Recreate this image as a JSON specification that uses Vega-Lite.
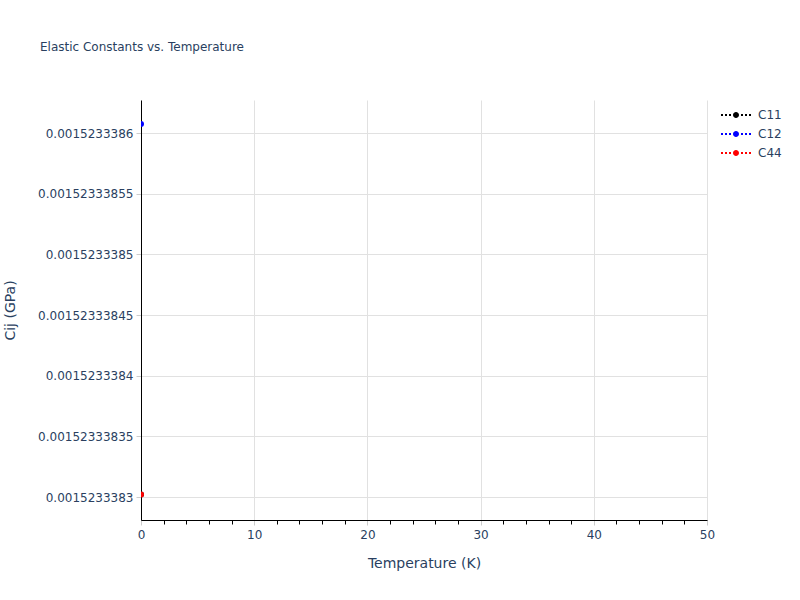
{
  "$schema": "https://vega.github.io/schema/vega-lite/v6.json",
  "width": 566,
  "height": 420,
  "autosize": {"type": "none"},
  "padding": {"left": 141, "top": 100, "right": 93, "bottom": 80},
  "background": "white",
  "title": {
    "text": "Elastic Constants vs. Temperature",
    "anchor": "start",
    "frame": "group",
    "dx": -101,
    "offset": 46,
    "fontSize": 12,
    "fontWeight": "normal",
    "font": "DejaVu Sans",
    "color": "#2a3f5f"
  },
  "data": {
    "values": [
      {"series": "C11", "temperature": 0, "cij": 0.0015233383021},
      {"series": "C12", "temperature": 0, "cij": 0.0015233386074},
      {"series": "C44", "temperature": 0, "cij": 0.0015233383021}
    ]
  },
  "layer": [
    {
      "mark": {"type": "point", "filled": true, "opacity": 1, "size": 36, "clip": true},
      "encoding": {
        "x": {
          "field": "temperature",
          "type": "quantitative",
          "scale": {"domain": [0, 50], "nice": false, "zero": false},
          "axis": {
            "title": "Temperature (K)",
            "orient": "bottom",
            "values": [0, 10, 20, 30, 40, 50],
            "format": "d",
            "labelFlush": false,
            "grid": true,
            "gridColor": "#e1e1e1",
            "domainColor": "black",
            "tickColor": "#cccccc",
            "tickSize": 5,
            "labelPadding": 4,
            "titlePadding": 16
          }
        },
        "y": {
          "field": "cij",
          "type": "quantitative",
          "scale": {"domain": [0.0015233382811, 0.0015233386272], "nice": false, "zero": false},
          "axis": {
            "title": "Cij (GPa)",
            "values": [0.0015233383, 0.00152333835, 0.0015233384, 0.00152333845, 0.0015233385, 0.00152333855, 0.0015233386],
            "format": ".11~f",
            "labelFlush": false,
            "grid": true,
            "gridColor": "#e1e1e1",
            "domainColor": "black",
            "tickColor": "#cccccc",
            "tickSize": 5,
            "labelPadding": 3,
            "titlePadding": 20
          }
        },
        "color": {
          "field": "series",
          "type": "nominal",
          "scale": {"domain": ["C11", "C12", "C44"], "range": ["black", "blue", "red"]},
          "legend": {
            "title": null,
            "orient": "none",
            "legendX": 589,
            "legendY": 9,
            "padding": 0,
            "symbolType": "M-3,-0.2H-2.6V0.2H-3Z M-2.2,-0.2H-1.8V0.2H-2.2Z M-1.4,-0.2H-1V0.2H-1.4Z M-0.6,0A0.6,0.6 0 1,0 0.6,0A0.6,0.6 0 1,0 -0.6,0Z M1,-0.2H1.4V0.2H1Z M1.8,-0.2H2.2V0.2H1.8Z M2.6,-0.2H3V0.2H2.6Z",
            "symbolSize": 100,
            "symbolStrokeWidth": 0,
            "symbolOpacity": 1,
            "rowPadding": 7,
            "labelOffset": 16,
            "labelFontSize": 12,
            "labelFont": "DejaVu Sans",
            "labelColor": "#2a3f5f"
          }
        }
      }
    },
    {
      "mark": {"type": "tick", "opacity": 0},
      "encoding": {
        "x": {
          "field": "temperature",
          "type": "quantitative",
          "axis": {
            "title": null,
            "orient": "bottom",
            "values": [2, 4, 6, 8, 12, 14, 16, 18, 22, 24, 26, 28, 32, 34, 36, 38, 42, 44, 46, 48],
            "labels": false,
            "domain": false,
            "grid": false,
            "tickColor": "black",
            "tickSize": 4
          }
        }
      }
    }
  ],
  "resolve": {"axis": {"x": "independent"}},
  "config": {
    "view": {"stroke": null},
    "font": "DejaVu Sans",
    "axis": {
      "labelFont": "DejaVu Sans",
      "labelFontSize": 12,
      "labelColor": "#2a3f5f",
      "titleFont": "DejaVu Sans",
      "titleFontSize": 14,
      "titleFontWeight": "normal",
      "titleColor": "#2a3f5f",
      "domainWidth": 1
    }
  }
}
